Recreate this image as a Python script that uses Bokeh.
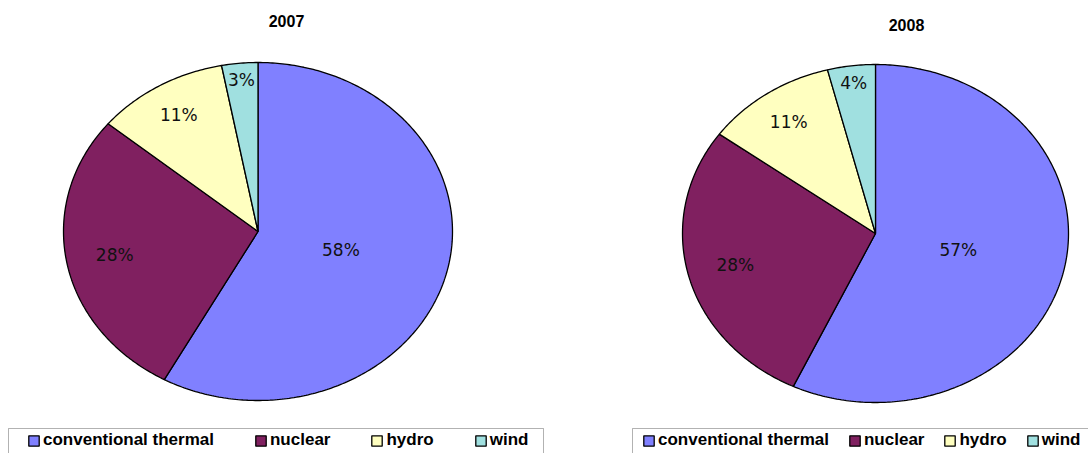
import numpy as np
from bokeh.plotting import figure
from bokeh.models import Range1d, ColumnDataSource, Legend, LegendItem, BoxAnnotation
from bokeh.core.properties import value
from bokeh.embed import file_html
from bokeh.resources import INLINE

# ---- data ----
categories = ["conventional thermal", "nuclear", "hydro", "wind"]
years = ["2007", "2008"]
share_2007 = [58, 28, 11, 3]
share_2008 = [57, 28, 11, 4]
colors = ["#8080FF", "#802060", "#FFFFC0", "#A0E0E0"]

# ---- layout (page pixel coordinates) ----
W, H = 1088, 453
PIES = [
    dict(year=years[0], values=share_2007, cx=257.5, cy=231, rx=194.5, ry=169,
         title_xy=(286, 20), box=(8, 543), legend_x=27, spacing=40),
    dict(year=years[1], values=share_2008, cx=875, cy=233, rx=193, ry=169,
         title_xy=(906, 24), box=(632, 1110), legend_x=642, spacing=19),
]
LABEL_R = [0.44, 0.75, 0.80, 0.9]

p = figure(width=W, height=H, x_range=Range1d(0, W), y_range=Range1d(H, 0),
           output_backend="svg", toolbar_location=None, min_border=0,
           x_axis_location=None, y_axis_location=None)
p.grid.visible = False
p.outline_line_color = None
p.background_fill_color = "white"

for cfg in PIES:
    vals = np.array(cfg["values"], dtype=float)
    fr = vals / vals.sum()
    cum = np.concatenate([[0.0], np.cumsum(fr)])
    cx, cy, rx, ry = cfg["cx"], cfg["cy"], cfg["rx"], cfg["ry"]
    xs, ys, lx, ly = [], [], [], []
    for i in range(len(vals)):
        a0 = np.pi / 2 - 2 * np.pi * cum[i]
        a1 = np.pi / 2 - 2 * np.pi * cum[i + 1]
        n = max(int(abs(a1 - a0) * 80), 4) + 1
        t = np.linspace(a0, a1, n)
        xs.append(np.concatenate([[cx], cx + rx * np.cos(t)]).tolist())
        ys.append(np.concatenate([[cy], cy - ry * np.sin(t)]).tolist())
        am = (a0 + a1) / 2
        lx.append(cx + LABEL_R[i] * rx * np.cos(am))
        ly.append(cy - LABEL_R[i] * ry * np.sin(am))
    src = ColumnDataSource(dict(xs=xs, ys=ys, color=colors, category=categories))
    r = p.patches("xs", "ys", source=src, fill_color="color", line_color="black",
                  line_width=1.3)
    p.text(x=lx, y=ly, text=[f"{v}%" for v in cfg["values"]],
           text_font=value("DejaVu Sans"), text_font_size="17px",
           text_align="center", text_baseline="middle", text_color="#111111")
    p.text(x=[cfg["title_xy"][0]], y=[cfg["title_xy"][1]], text=[cfg["year"]],
           text_font=value("Liberation Sans"), text_font_style="bold",
           text_font_size="16px", text_align="center", text_baseline="middle",
           text_color="black")
    box = BoxAnnotation(left=cfg["box"][0], right=cfg["box"][1], top=428, bottom=480,
                        fill_color=None, fill_alpha=0, line_color="black", line_width=1)
    p.add_layout(box)
    legend = Legend(
        items=[LegendItem(label=categories[i], renderers=[r], index=i)
               for i in range(len(categories))],
        orientation="horizontal", location=(cfg["legend_x"], 3),
        spacing=cfg["spacing"], padding=0, margin=0,
        border_line_color=None, background_fill_alpha=0,
        label_text_font="Liberation Sans", label_text_font_style="bold",
        label_text_font_size="17px", label_text_color="black",
        glyph_width=13, glyph_height=13, label_standoff=3, label_height=16,
    )
    p.add_layout(legend)

open("out.html", "w").write(file_html(p, INLINE))
